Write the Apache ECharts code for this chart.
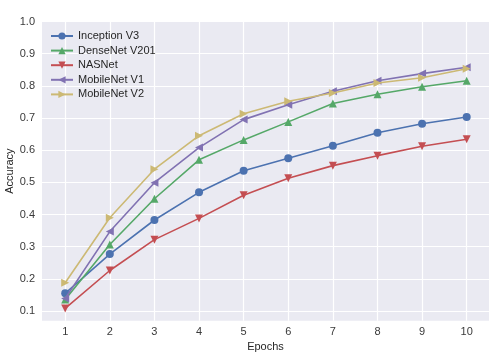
<!DOCTYPE html>
<html><head><meta charset="utf-8">
<script src="https://cdn.jsdelivr.net/npm/echarts@6/dist/echarts.min.js"></script>
<style>html,body{margin:0;padding:0;background:#fff}#c{width:495px;height:359px}</style>
</head><body><div id="c"></div>
<script>
const epochs = [1,2,3,4,5,6,7,8,9,10];
const yTicks = [0.1,0.2,0.3,0.4,0.5,0.6,0.7,0.8,0.9,1.0];
const inceptionV3 = [0.155,0.277,0.383,0.469,0.536,0.575,0.614,0.654,0.682,0.703];
const denseNet201 = [0.136,0.307,0.449,0.570,0.632,0.688,0.745,0.774,0.797,0.816];
const nasNet = [0.108,0.226,0.322,0.388,0.460,0.513,0.552,0.583,0.612,0.634];
const mobileNetV1 = [0.139,0.347,0.499,0.608,0.695,0.741,0.783,0.816,0.838,0.858];
const mobileNetV2 = [0.188,0.390,0.541,0.645,0.713,0.752,0.778,0.809,0.825,0.853];
const names = ['Inception V3','DenseNet V201','NASNet','MobileNet V1','MobileNet V2'];
const colors = ['#4C72B0','#55A868','#C44E52','#8172B2','#CCB974'];
const symbols = [['circle',0,8],['triangle',0,8],['triangle',180,8],['triangle',90,8],['triangle',-90,8]];
const allData = [inceptionV3, denseNet201, nasNet, mobileNetV1, mobileNetV2];
const font = 'Liberation Sans, Arial, sans-serif';
const chart = echarts.init(document.getElementById('c'), null, {renderer:'canvas'});
chart.setOption({
  animation:false,
  backgroundColor:'#fff',
  grid:{left:42,right:6,top:21.5,bottom:38.3,show:true,backgroundColor:'#EAEAF2',borderWidth:0,
    containLabel:false,outerBoundsMode:'none'},
  legend:{orient:'vertical',left:45,top:25.5,itemWidth:22,itemHeight:9,itemGap:3.6,
    textStyle:{fontFamily:font,fontSize:11,color:'#262626'},data:names},
  xAxis:{type:'value',min:0.48,max:10.5,name:'Epochs',nameLocation:'middle',nameGap:21,
    nameMoveOverlap:false,
    nameTextStyle:{fontFamily:font,fontSize:11,color:'#262626'},
    axisLine:{show:false},
    axisTick:{show:false,customValues:epochs},
    axisLabel:{customValues:epochs,fontFamily:font,fontSize:11,color:'#3a3a3a',margin:6},
    splitLine:{show:true,lineStyle:{color:'#fff',width:1.2}}},
  yAxis:{type:'value',min:0.07,max:1.0,name:'Accuracy',nameLocation:'middle',nameGap:27,
    nameMoveOverlap:false,
    nameTextStyle:{fontFamily:font,fontSize:11,color:'#262626'},
    axisLine:{show:false},
    axisTick:{show:false,customValues:yTicks},
    axisLabel:{customValues:yTicks,fontFamily:font,fontSize:11,color:'#3a3a3a',margin:7,formatter:v=>v.toFixed(1)},
    splitLine:{show:true,lineStyle:{color:'#fff',width:1.2}}},
  series: names.map((n,i)=>({
    name:n,type:'line',data:epochs.map((e,j)=>[e,allData[i][j]]),
    symbol:symbols[i][0],symbolRotate:symbols[i][1],symbolSize:symbols[i][2],showAllSymbol:true,
    itemStyle:{color:colors[i]},lineStyle:{color:colors[i],width:1.6},z:2+i
  }))
});
</script></body></html>
